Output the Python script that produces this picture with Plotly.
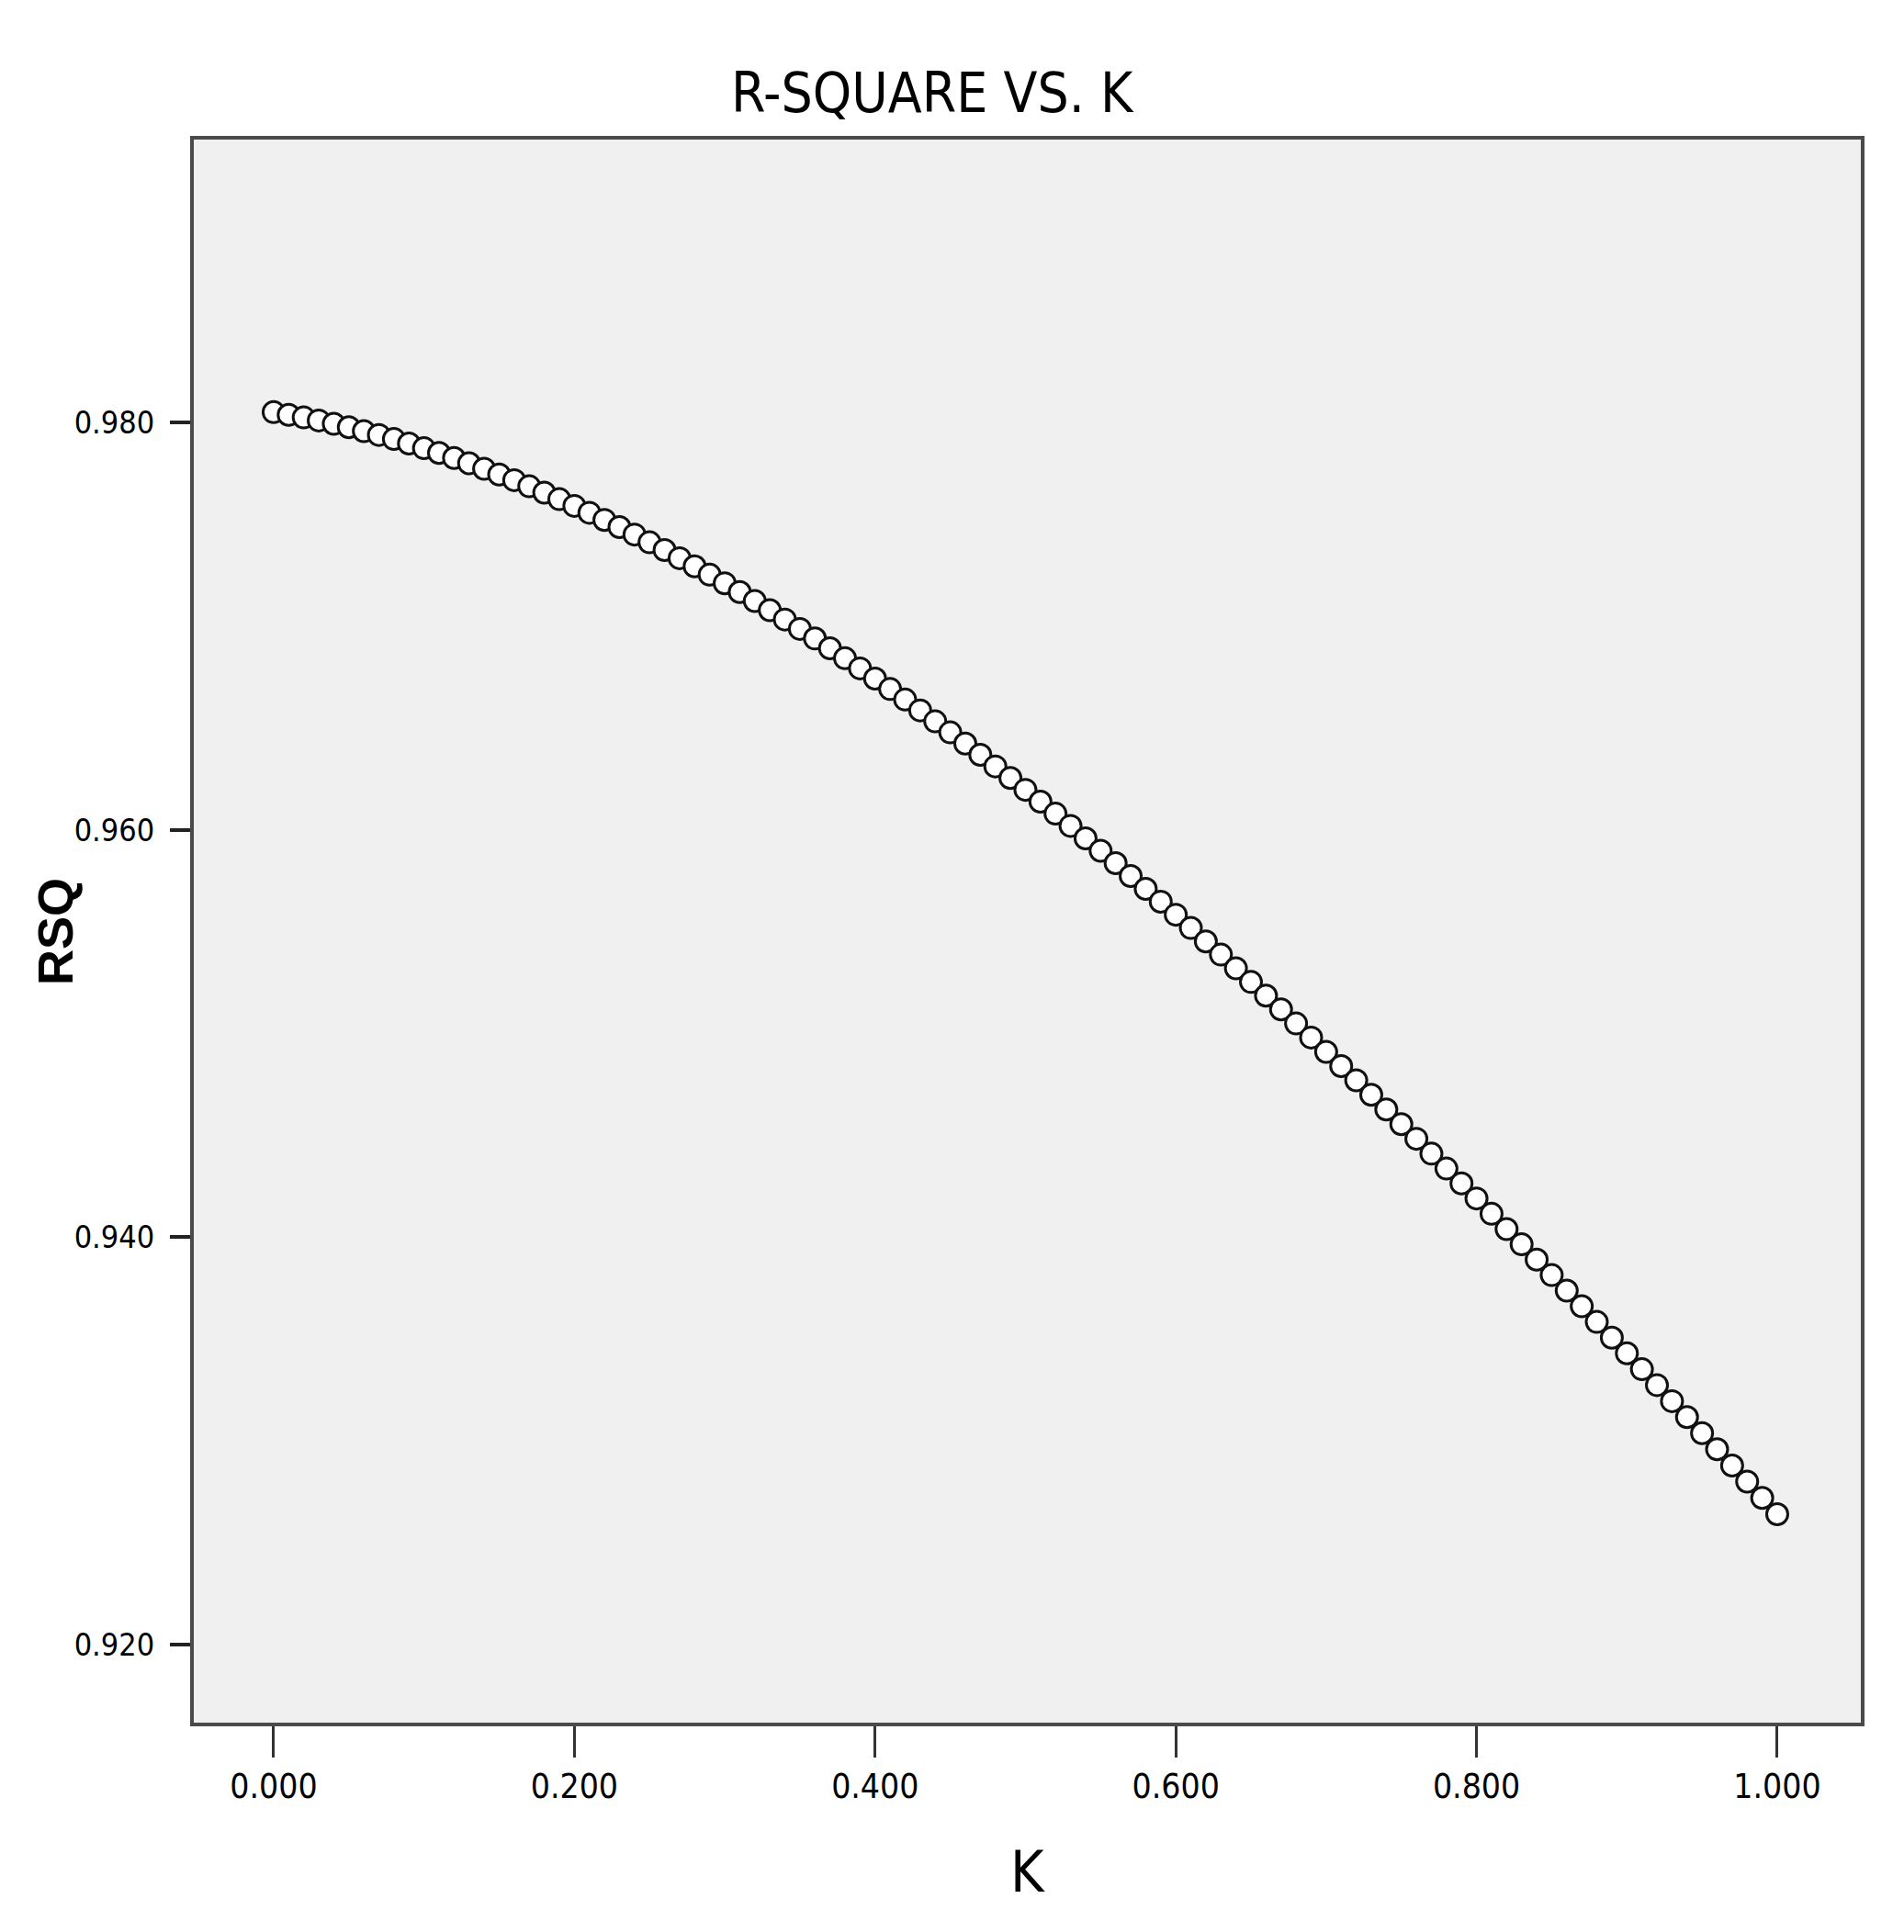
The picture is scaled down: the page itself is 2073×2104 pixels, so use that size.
import plotly.graph_objects as go

# Ridge parameter K and R-square values
k_values = [
    0.00, 0.01, 0.02, 0.03, 0.04, 0.05, 0.06, 0.07, 0.08, 0.09,
    0.10, 0.11, 0.12, 0.13, 0.14, 0.15, 0.16, 0.17, 0.18, 0.19,
    0.20, 0.21, 0.22, 0.23, 0.24, 0.25, 0.26, 0.27, 0.28, 0.29,
    0.30, 0.31, 0.32, 0.33, 0.34, 0.35, 0.36, 0.37, 0.38, 0.39,
    0.40, 0.41, 0.42, 0.43, 0.44, 0.45, 0.46, 0.47, 0.48, 0.49,
    0.50, 0.51, 0.52, 0.53, 0.54, 0.55, 0.56, 0.57, 0.58, 0.59,
    0.60, 0.61, 0.62, 0.63, 0.64, 0.65, 0.66, 0.67, 0.68, 0.69,
    0.70, 0.71, 0.72, 0.73, 0.74, 0.75, 0.76, 0.77, 0.78, 0.79,
    0.80, 0.81, 0.82, 0.83, 0.84, 0.85, 0.86, 0.87, 0.88, 0.89,
    0.90, 0.91, 0.92, 0.93, 0.94, 0.95, 0.96, 0.97, 0.98, 0.99,
    1.00,
]
rsq_values = [
    0.98050, 0.98037, 0.98024, 0.98009, 0.97993, 0.97976, 0.97957, 0.97938, 0.97918, 0.97896,
    0.97873, 0.97850, 0.97825, 0.97799, 0.97772, 0.97744, 0.97716, 0.97686, 0.97655, 0.97623,
    0.97590, 0.97556, 0.97521, 0.97486, 0.97449, 0.97411, 0.97373, 0.97333, 0.97293, 0.97252,
    0.97210, 0.97167, 0.97123, 0.97078, 0.97032, 0.96986, 0.96939, 0.96891, 0.96842, 0.96792,
    0.96742, 0.96691, 0.96639, 0.96586, 0.96532, 0.96478, 0.96423, 0.96368, 0.96311, 0.96254,
    0.96196, 0.96138, 0.96079, 0.96019, 0.95958, 0.95897, 0.95836, 0.95773, 0.95710, 0.95647,
    0.95583, 0.95518, 0.95452, 0.95387, 0.95320, 0.95253, 0.95186, 0.95118, 0.95049, 0.94980,
    0.94910, 0.94840, 0.94770, 0.94699, 0.94627, 0.94555, 0.94483, 0.94410, 0.94337, 0.94264,
    0.94190, 0.94115, 0.94040, 0.93965, 0.93890, 0.93814, 0.93738, 0.93661, 0.93584, 0.93507,
    0.93430, 0.93352, 0.93274, 0.93195, 0.93117, 0.93038, 0.92959, 0.92879, 0.92800, 0.92720,
    0.92640,
]

x_tick_vals = [0.0, 0.2, 0.4, 0.6, 0.8, 1.0]
x_tick_text = ["0.000", "0.200", "0.400", "0.600", "0.800", "1.000"]
y_tick_vals = [0.92, 0.94, 0.96, 0.98]
y_tick_text = ["0.920", "0.940", "0.960", "0.980"]

title_text = "R-SQUARE VS. K"
x_title = "K"
y_title = "RSQ"

NARROW = "Liberation Sans Narrow, Arial Narrow, DejaVu Sans Condensed, Liberation Sans, sans-serif"
REG = "Liberation Sans, Arial, sans-serif"

fig = go.Figure()
fig.add_trace(go.Scatter(
    x=k_values, y=rsq_values, mode="markers",
    marker=dict(symbol="circle", size=23, color="white",
                line=dict(color="#111111", width=3)),
    showlegend=False,
))

# the page body adds an 8px margin, so the figure is 8px smaller
fig.update_layout(
    width=2065, height=2096,
    margin=dict(l=203, r=47, t=144, b=228),
    paper_bgcolor="white",
    plot_bgcolor="#f0f0f0",
    showlegend=False,
)
fig.update_xaxes(
    range=[-0.0531, 1.0556], tickvals=x_tick_vals, ticktext=x_tick_text,
    showgrid=False, zeroline=False,
    showline=True, mirror=True, linecolor="#4a4a4a", linewidth=4,
    ticks="outside", ticklen=34, tickwidth=3, tickcolor="#333333",
    tickfont=dict(family=NARROW, size=37, color="black"),
)
fig.update_yaxes(
    range=[0.91617, 0.99388], tickvals=y_tick_vals, ticktext=y_tick_text,
    showgrid=False, zeroline=False,
    showline=True, mirror=True, linecolor="#4a4a4a", linewidth=4,
    ticks="outside", ticklen=22, tickwidth=4, tickcolor="#222222",
    tickfont=dict(family=NARROW, size=34, color="black"),
    ticklabelstandoff=10,
)

fig.add_annotation(text=title_text, xref="paper", yref="paper",
                   x=0.4435, y=1.0296, xanchor="center", yanchor="middle",
                   showarrow=False, font=dict(family=NARROW, size=60, color="black"))
fig.add_annotation(text=x_title, xref="paper", yref="paper",
                   x=0.5, y=-0.0945, xanchor="center", yanchor="middle",
                   showarrow=False, font=dict(family=NARROW, size=62, color="black"))
fig.add_annotation(text="<b>" + y_title + "</b>", xref="paper", yref="paper",
                   x=-0.0832, y=0.5, xanchor="center", yanchor="middle", textangle=-90,
                   showarrow=False, font=dict(family=REG, size=54, color="black"))

fig.write_html("out.html")
